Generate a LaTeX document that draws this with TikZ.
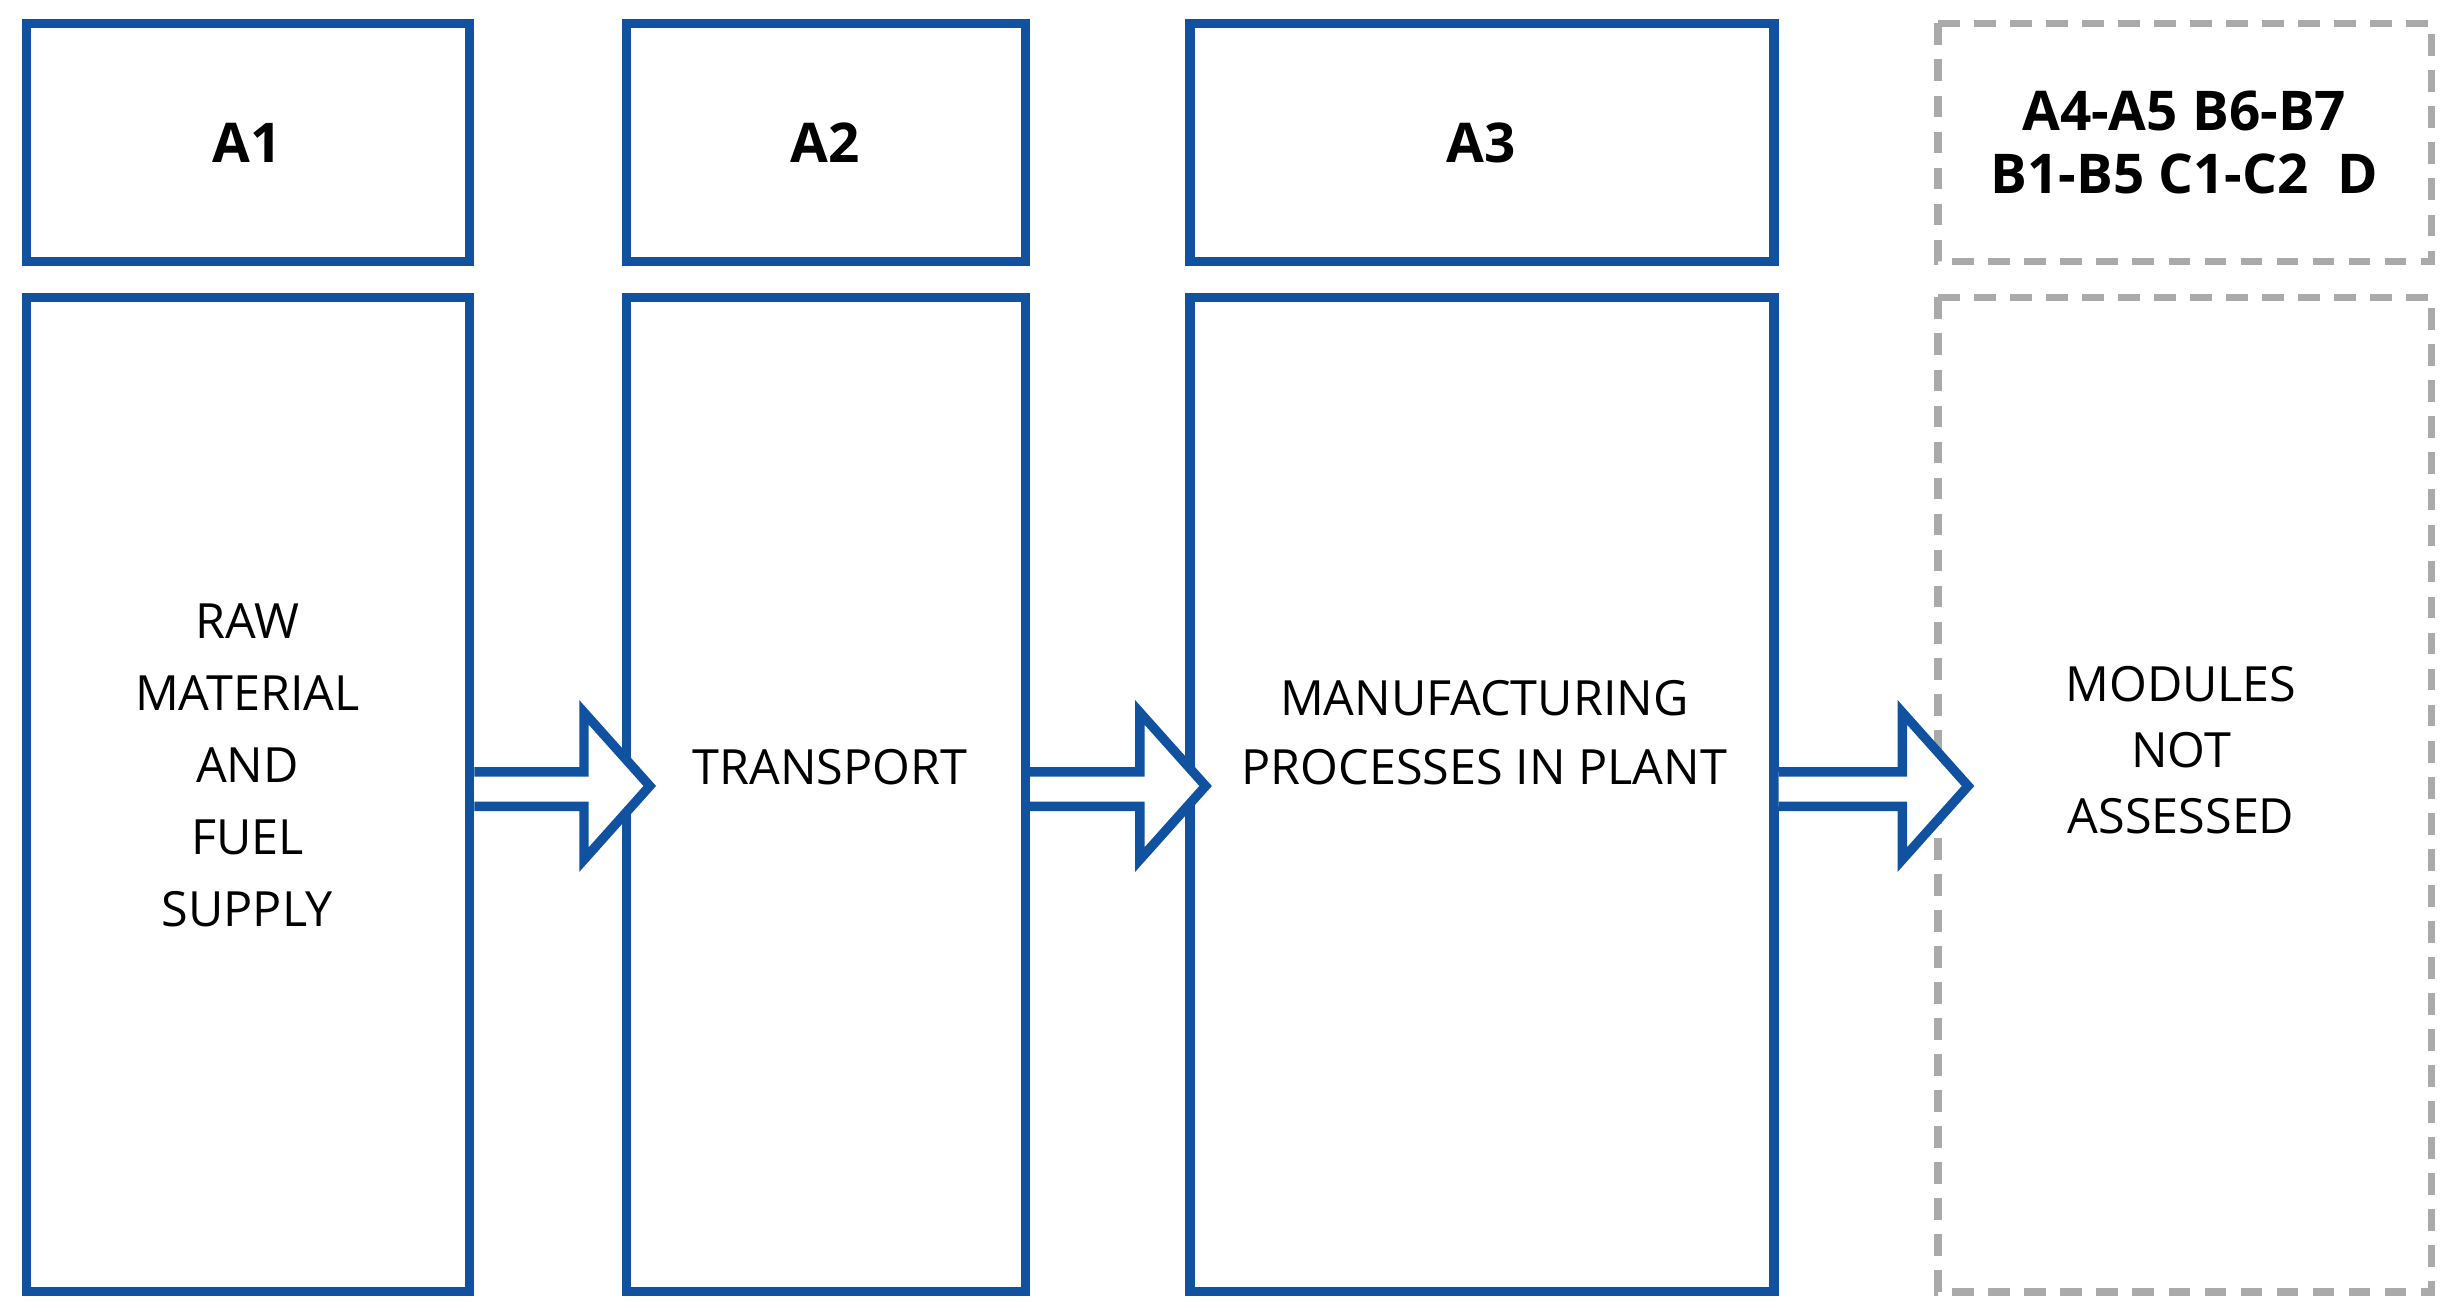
\documentclass[tikz,border=0pt]{standalone}
\usepackage{fontspec}
\setmainfont{Open Sans}
\usetikzlibrary{calc}
\definecolor{bl}{RGB}{16,82,160}
\definecolor{gr}{RGB}{170,170,170}
\begin{document}
\begin{tikzpicture}[x=1pt,y=-1pt,
 box/.style={draw=bl,line width=6pt,fill=white},
 dbox/.style={draw=gr,line width=5pt,dash pattern=on 14pt off 9pt},
 hd/.style={font=\bfseries\fontsize{35}{40}\selectfont,align=center},
 bd/.style={font=\fontsize{31}{46}\selectfont,align=center},
 arr/.style={draw=bl,line width=6pt,fill=white,line join=miter}]
\useasboundingbox (0,0) rectangle (1568,838);
\draw[box] (17,15) rectangle (300,167); \node[hd] (t1) at (158,91) {A1};
\draw[box] (400,15) rectangle (655,167); \node[hd] (t2) at (527,91) {A2};
\draw[box] (760,15) rectangle (1133,167); \node[hd] (t3) at (946,91) {A3};
\draw[dbox] (1238,15) rectangle (1553,167);
\node[hd,font=\bfseries\fontsize{35}{40}\selectfont] (t4) at (1395,91) {A4-A5 B6-B7\\B1-B5 C1-C2~~D};
\draw[box] (17,190) rectangle (300,825);
\draw[box] (400,190) rectangle (655,825);
\draw[box] (760,190) rectangle (1133,825);
\draw[dbox] (1238,190) rectangle (1553,825);
\node[bd] (b1) at (158,489) {RAW\\MATERIAL\\AND\\FUEL\\SUPPLY};
\node[bd] (b2) at (530,490) {TRANSPORT};
\node[bd,font=\fontsize{31}{44}\selectfont] (b3) at (948,468) {MANUFACTURING\\PROCESSES IN PLANT};
\node[bd,font=\fontsize{31}{42}\selectfont] (b4) at (1393,479) {MODULES\\NOT\\ASSESSED};
\foreach \s/\e in {303/415,658/770,1136/1257}{
 \draw[arr] (\s,493) -- (\e-42,493) -- (\e-42,455) -- (\e,502) -- (\e-42,549) -- (\e-42,515) -- (\s,515);
}
\end{tikzpicture}
\end{document}
